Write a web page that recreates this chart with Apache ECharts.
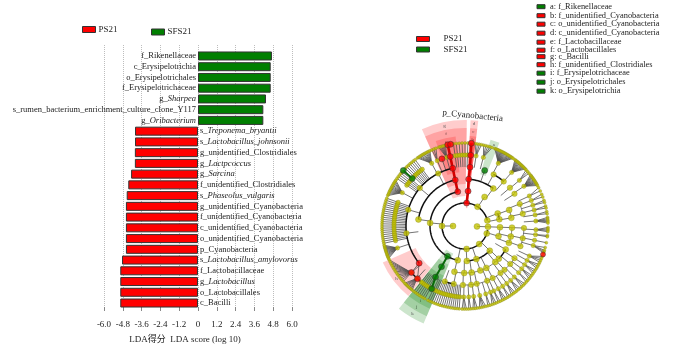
<!DOCTYPE html>
<html><head><meta charset="utf-8">
<style>html,body{margin:0;padding:0;background:#fff}#c{width:700px;height:350px}</style>
<script src="https://cdn.jsdelivr.net/npm/echarts@6/dist/echarts.min.js"></script>
</head><body><div id="c"></div>
<script>
// ---------- LDA bars ----------
const categories = ['f_Rikenellaceae','c_Erysipelotrichia','o_Erysipelotrichales','f_Erysipelotrichaceae','g_Sharpea','s_rumen_bacterium_enrichment_culture_clone_Y117','g_Oribacterium','s_Treponema_bryantii','s_Lactobacillus_johnsonii','g_unidentified_Clostridiales','g_Lactpcoccus','g_Sarcina','f_unidentified_Clostridiales','s_Phaseolus_vulgaris','g_unidentified_Cyanobacteria','f_unidentified_Cyanobacteria','c_unidentified_Cyanobacteria','o_unidentified_Cyanobacteria','p_Cyanobacteria','s_Lactobacillus_amylovorus','f_Lactobacillaceae','g_Lactobacillus','o_Lactobacillales','c_Bacilli'];
const italicNames = ['g_Sharpea','g_Oribacterium','s_Treponema_bryantii','s_Lactobacillus_johnsonii','g_Lactpcoccus','g_Sarcina','s_Phaseolus_vulgaris','s_Lactobacillus_amylovorus','g_Lactobacillus'];
const sfs21Values = [4.72,4.64,4.64,4.64,4.34,4.17,4.17,null,null,null,null,null,null,null,null,null,null,null,null,null,null,null,null,null];
const ps21Values = [null,null,null,null,null,null,null,-4.02,-4.02,-4.03,-4.03,-4.27,-4.45,-4.55,-4.6,-4.6,-4.6,-4.6,-4.6,-4.85,-4.96,-4.96,-4.96,-4.96];

// ---------- cladogram: [radius ring, clockwise angle from top] ----------
const ring12 = [92,270];
const ring23 = [33,76,92,109,142,176,270];
const ring35 = [34,69,79,92,107,135,161,177,192,275];
const ring47 = [37,70,80,92,103,111,120,134,140,153,161,172,181,193,278];
const ring59 = [29,41,49.6,57,68,78,92,102,110,123,130,138,143,152,158,168.5,174,182,191,200,263,286,310,333];
// [parent angle on ring 71, leaf angles on ring 83]
const leafFans = [
 [9,[7,8.5,10,11.5]],[15,[13,14.5,16,17.5,19]],
 [28,[21,21.8,22.6,23.4,24.2,25,25.8,26.6,27.4,28.2,29,29.8,30.6,31.4,32.2,33,33.8,34.6,35.4]],
 [41,[37,37.8,38.6,39.4,40.2,41,41.8,42.6,43.4,44.2,45,45.8,46.6]],
 [50,[47.5,49,50.5]],
 [56,[52,52.8,53.6,54.4,55.2,56,56.8,57.6,58.4,59.2,60,60.8]],
 [65,[62.5,65]],[69,[67.5,69.5]],[73,[72,73.5]],[77,[76,77.5]],[81,[80,81.5]],[86,[84,85,86,87,88]],
 [93,[91,92,93,94]],[97,[96.5,97.5]],[101.6,[101.6]],[106,[105,107,108,109]],
 [115,[111.5,113,114.5,116]],[119,[117.5,119,120.5]],[123,[122,123.5,125]],[127,[126.5,128,129.5]],[131,[131,132.5]],
 [136,[134,135.5,137]],[140,[138.5,140,141.5]],[144,[143,144.5,146]],[148,[147.5,149]],[152,[150.5,152,153.5]],
 [156,[155,156.5]],[159,[158,159.5,161]],[163,[162.5,164]],[168,[165.5,167,168.5,170]],[173,[171.5,173,174.5]],[177,[176,177.5]],[181,[179,180.5,182]],
 [184,[184]],[185.5,[185.5]],[187,[187]],[188.5,[188.5]],[190,[190]],[191.5,[191.5]],[193,[193]],[194.5,[194.5]],[196,[196]],[197.5,[197.5]],[199,[199]],[200.5,[200.5]],[202,[202]],[203.5,[203.5]],[205,[205]],[206.5,[206.5]],
 [209,[209]],[210.5,[210.5]],[212,[212]],[213.5,[213.5]],[215,[215]],[216.5,[216.5]],[218,[218]],
 [222.5,[219.5,220.5,221.5,222.5,223.5,224.5,225.5,226.5]],
 [229,[228,229.5,231,232.5,234,235.5,237,238.5,240,241.5,243,244.5,246]],
 [252,[247,247.8,248.6,249.4,250.2,251,251.8,252.6,253.4,254.2,255,255.8,256.6]],
 [258,[258]],[259.5,[259.5]],[261,[261]],[262.5,[262.5]],[264,[264]],[265.5,[265.5]],[267,[267]],[268.5,[268.5]],[270,[270]],[271.5,[271.5]],[273,[273]],[274.5,[274.5]],[276,[276]],[277.5,[277.5]],[279,[279]],[280.5,[280.5]],[282,[282]],[283.5,[283.5]],[285,[285]],[286.5,[286.5]],[288,[288]],[289.5,[289.5]],
 [298,[291.5,292.5,293.5,294.5,295.5,296.5,297.5,298.5,299.5,300.5,301.5,302.5,303.5]],
 [305,[305]],[306.5,[306.5]],[308,[308]],[309.5,[309.5]],[311,[310.8]],[314,[314]],[315.5,[315.5]],[317,[317]],[318.5,[318.5]],[320,[320]],[321.5,[321.5]],[323,[323]],
 [332,[325,326,327,328,329,330,331,332,333,334,335]],
 [337,[336.5,338,339.5]],
 [345,[341.5,342.5,343.5,344.5,345.5,346.5]],
 [352,[352]],[354,[354]],[356,[356]],[358,[358]],[360,[360]],[2,[2]]
];
const boldArcs = [[23,100,270],[23,270,436],[35,69,79],[35,135,177],[35,192,348],[47,6,37],[47,120,134],[47,278,348],[59,29,41],[59,190,200],[59,231,347],[71,218,229]];
const thinArcs = [[35,92,107],[47,70,80],[47,92,111],[47,134,193],[59,68,78],[59,92,110],[59,123,182],[59,312,333]];
const redNodes = [[23,4],[35,5],[47,4.5],[59,4.9],[71,4.6],[83,4.4],[35,348],[47,348],[59,348],[71,348],[83,348],[83,350],[71,341],[59,231],[71,229],[71,222],[83,110]];
const greenNodes = [[35,210],[47,210],[59,210],[71,208],[59,19.5],[71,312],[83,312]];
const redPaths = [[23,4,35,5],[35,5,47,4.5],[47,4.5,59,4.9],[59,4.9,71,4.6],[71,4.6,83,4.4],[35,348,47,348],[47,348,59,348],[59,348,71,348],[71,348,83,348]];
const greenPaths = [[35,210,47,210],[47,210,59,210],[59,210,71,208],[71,312,83,312]];

// clade shading: name, letter, colour, inner ring, outer ring, from angle, to angle
const cladeNames = ['a: f_Rikenellaceae','b: f_unidentified_Cyanobacteria','c: o_unidentified_Cyanobacteria','d: c_unidentified_Cyanobacteria','e: f_Lactobacillaceae','f: o_Lactobacillales','g: c_Bacilli','h: f_unidentified_Clostridiales','i: f_Erysipelotrichaceae','j: o_Erysipelotrichales','k: o_Erysipelotrichia'];
const cladeLetters = ['a','b','c','d','e','f','g','h','i','j','k'];
const cladeGroups = ['SFS21','PS21','PS21','PS21','PS21','PS21','PS21','PS21','SFS21','SFS21','SFS21'];
const cladeRadii = [[54,90],[54,90],[42,98],[30,106],[54,90],[42,98],[30,106],[54,90],[54,90],[42,98],[30,106]];
const cladeAngles = [[16.5,22.5],[3,7.2],[3,7.2],[3,7.2],[341,354],[336,361],[336,361],[219,246],[203,218.6],[203,218.6],[203,218.6]];
const phylumLabel = 'p_Cyanobacteria';
const xTicks = {min:-6,max:6,interval:1.2};
const xName = 'LDA得分  LDA score (log 10)';

const FONT = "'Liberation Serif','Noto Sans CJK SC',serif";
const RED = '#ff0000', GREEN = '#007f00', YELLOW = '#c2c200';
const groupColor = g => g === 'PS21' ? RED : GREEN;

function labelFmt(p){
  const n = p.name;
  if (italicNames.indexOf(n) >= 0) return '{n|' + n.slice(0,2) + '}{i|' + n.slice(2) + '}';
  return '{n|' + n + '}';
}
const barLabelRich = {n:{fontFamily:FONT,fontSize:8.5,color:'#222'},i:{fontFamily:FONT,fontSize:8.5,fontStyle:'italic',color:'#222'}};
function barSeries(name,data,color,pos){
  return {name,type:'bar',xAxisIndex:1,yAxisIndex:1,data,barWidth:9,barGap:'-100%',
    itemStyle:{color,borderColor:'#333',borderWidth:1},
    label:{show:true,position:pos,distance:2,formatter:labelFmt,rich:barLabelRich},z:3};
}

// ---- polar helpers: everything goes through api.coord on the polar axes ----
const wrap = a => ((a % 360) + 360) % 360;
function segRender(color,width){
  return function(params,api){
    const a = api.coord([api.value(0),wrap(api.value(1))]);
    const b = api.coord([api.value(2),wrap(api.value(3))]);
    return {type:'line',shape:{x1:a[0],y1:a[1],x2:b[0],y2:b[1]},style:{stroke:color,lineWidth:width,fill:null},silent:true};
  };
}
function arcRender(color,width){
  return function(params,api){
    const r = api.value(0), a0 = api.value(1), a1 = api.value(2), pts = [];
    for (let a = a0; a < a1; a += 2) pts.push(api.coord([r,wrap(a)]));
    pts.push(api.coord([r,wrap(a1)]));
    return {type:'polyline',shape:{points:pts},style:{stroke:color,lineWidth:width,fill:null},silent:true};
  };
}
function cladeRender(letter,color,opacity){
  return function(params,api){
    const c = api.coord([0,0]);
    const r0 = api.value(0), r1 = api.value(1), a0 = api.value(2), a1 = api.value(3);
    const q = api.coord([r1,wrap(a0)]);
    const scale = Math.hypot(q[0]-c[0],q[1]-c[1]) / r1;
    const t = api.coord([r1-3.6,wrap((a0+a1)/2)]);
    const kids = [{type:'sector',shape:{cx:c[0],cy:c[1],r0:r0*scale,r:r1*scale,
        startAngle:(a0-90)*Math.PI/180,endAngle:(a1-90)*Math.PI/180,clockwise:true},
        style:{fill:color,opacity:opacity},silent:true}];
    if (letter) kids.push({type:'text',x:t[0],y:t[1],style:{text:letter,fontFamily:FONT,fontSize:5,fill:'#555',align:'center',verticalAlign:'middle'},silent:true});
    return {type:'group',children:kids};
  };
}
function polarCustom(name,render,data,z){
  return {name,type:'custom',coordinateSystem:'polar',polarIndex:0,renderItem:render,data,z,animation:false};
}

// derive polar rows from the named arrays
const spokes = [];
ring12.forEach(a => spokes.push([12,a,23,a]));
ring35.forEach(a => spokes.push([23,a,35,a]));
ring47.forEach(a => spokes.push([35,a,47,a]));
ring59.forEach(a => spokes.push([47,a,59,a]));
const ring71 = [], leaves = [];
leafFans.forEach(f => {
  const p = f[0];
  ring71.push([71,wrap(p)]);
  spokes.push([59,p,71,p]);
  f[1].forEach(l => { spokes.push([71,p,83,l]); leaves.push([83,wrap(l)]); });
});
spokes.push([47,19.5,59,19.5],[59,341,71,341],[59,231,71,229],[59,231,71,222]);
const yellowNodes = [].concat(
  ring12.map(a=>[12,a]),ring23.map(a=>[23,a]),ring35.map(a=>[35,a]),
  ring47.map(a=>[47,a]),ring59.map(a=>[59,a]),ring71,leaves);
const nodeSize = d => d[0] <= 47 ? 6 : d[0] === 59 ? 5.5 : d[0] === 71 ? 4.4 : 3;

const legends = [
  {data:['PS21'],left:82,top:25,itemWidth:13,itemHeight:6,textStyle:{fontFamily:FONT,fontSize:9,color:'#222',padding:[0,0,0,-2]}},
  {data:['SFS21'],left:151,top:27.5,itemWidth:13,itemHeight:6,textStyle:{fontFamily:FONT,fontSize:9,color:'#222',padding:[0,0,0,-2]}},
  {data:['PS21','SFS21'],orient:'vertical',left:416,top:34.5,itemGap:1.5,itemWidth:13,itemHeight:5,
   textStyle:{fontFamily:FONT,fontSize:9,color:'#222',padding:[0,0,0,9]}}
];
const cladeKeyTops = [2.5,11.5,20,29,38,46,52.5,60.5,69,78,87];
cladeNames.forEach((n,i) => legends.push({
  data:[{name:n,itemStyle:{color:groupColor(cladeGroups[i]),opacity:1,borderColor:'#333',borderWidth:1}}],
  left:536.5,top:cladeKeyTops[i],padding:0,itemWidth:8,itemHeight:4,icon:'rect',
  textStyle:{fontFamily:FONT,fontSize:8.4,color:'#222'}
}));
legends.forEach(l => { l.selectedMode = false; l.icon = 'rect'; if (l.padding === undefined) l.padding = 0;
  l.itemStyle = {borderColor:'#333',borderWidth:1}; });

const series = [
  barSeries('SFS21',sfs21Values,GREEN,'left'),
  barSeries('PS21',ps21Values,RED,'right'),
  polarCustom(phylumLabel,function(params,api){
    const base = cladeRender('', RED, 0.25)(params,api);
    const t = api.coord([110.5,4]);
    base.children.push({type:'text',x:t[0],y:t[1],rotation:-0.1,style:{text:phylumLabel,fontFamily:FONT,fontSize:9,fill:'#222',align:'center',verticalAlign:'middle'},silent:true});
    return base;
  },[[18,83,3,7.2]],1)
];
cladeNames.forEach((n,i) => series.push(
  polarCustom(n,cladeRender(cladeLetters[i],groupColor(cladeGroups[i]),0.2),
    [cladeRadii[i].concat(cladeAngles[i])],1)));
series.push(
  polarCustom('spokes',segRender('#505050',0.8),spokes,2),
  polarCustom('arcs',arcRender('#111',1.5),boldArcs,3),
  polarCustom('thin arcs',arcRender('#555',0.8),thinArcs,2),
  polarCustom('red paths',segRender('#d40000',2.6),redPaths,3),
  polarCustom('green paths',segRender('#0a6a0a',2),greenPaths,3),
  {name:'nodes',type:'scatter',coordinateSystem:'polar',polarIndex:0,data:yellowNodes,symbolSize:nodeSize,
   itemStyle:{color:YELLOW,borderColor:'#80801c',borderWidth:0.4},z:4,animation:false},
  {name:'red nodes',type:'scatter',coordinateSystem:'polar',polarIndex:0,data:redNodes,symbolSize:d=>d[0]===83&&d[1]===110?5:6,
   itemStyle:{color:RED,borderColor:'#333',borderWidth:0.6},z:5,animation:false},
  {name:'green nodes',type:'scatter',coordinateSystem:'polar',polarIndex:0,data:greenNodes,symbolSize:6,
   itemStyle:{color:GREEN,borderColor:'#333',borderWidth:0.6},z:5,animation:false}
);

const chart = echarts.init(document.getElementById('c'),null,{renderer:'canvas'});
chart.setOption({
  animation:false,backgroundColor:'#fff',
  textStyle:{fontFamily:FONT},
  legend:legends,
  grid:[
    {left:104,width:188,top:45,height:266,show:false},
    {left:104,width:188,top:50.6,height:257.8,show:false}
  ],
  xAxis:[
    {gridIndex:0,type:'value',min:xTicks.min,max:xTicks.max,interval:xTicks.interval,
     axisLine:{show:false},axisTick:{show:true,length:4,inside:true,lineStyle:{color:'#888'}},
     splitLine:{show:true,lineStyle:{type:'dotted',color:'#bdbdbd',width:1}},
     axisLabel:{margin:9,fontFamily:FONT,fontSize:9,color:'#222',
       formatter:v=>Math.abs(v)<1e-6?'0':v.toFixed(1)},
     name:xName,nameLocation:'middle',nameGap:24,
     nameTextStyle:{fontFamily:FONT,fontSize:9,color:'#222',padding:[0,26,0,0]}},
    {gridIndex:1,type:'value',min:xTicks.min,max:xTicks.max,interval:xTicks.interval,show:false}
  ],
  yAxis:[
    {gridIndex:0,type:'category',data:categories,show:false,inverse:true},
    {gridIndex:1,type:'category',data:categories,show:false,inverse:true}
  ],
  polar:{center:[465,226],radius:[0,120]},
  radiusAxis:{polarIndex:0,type:'value',min:0,max:120,show:false},
  angleAxis:{polarIndex:0,type:'value',min:0,max:360,startAngle:90,clockwise:true,show:false},
  series
});
</script></body></html>
